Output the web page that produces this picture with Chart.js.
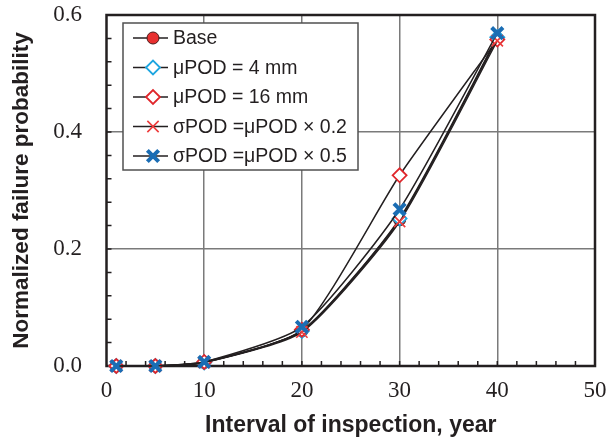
<!DOCTYPE html>
<html>
<head>
<meta charset="utf-8">
<script src="https://cdn.jsdelivr.net/npm/chart.js@4"></script>
<style>
  html, body { margin: 0; padding: 0; background: #fff; }
  #chart { display: block; }
</style>
</head>
<body>
<canvas id="chart" width="608" height="441"></canvas>
<script>
// inspection interval (years)
const intervals = [1, 5, 10, 20, 30, 40];

// normalized failure probability per case
const baseCase = [0, 0, 0.006, 0.06, 0.25, 0.56];
const muPod4 = [0, 0, 0.006, 0.06, 0.252, 0.562];
const muPod16 = [0, 0, 0.007, 0.062, 0.326, 0.558];
const sigma02 = [0, 0, 0.006, 0.058, 0.247, 0.556];
const sigma05 = [0, 0, 0.007, 0.067, 0.268, 0.569];

const labels = [
  "Base",
  "μPOD = 4 mm",
  "μPOD = 16 mm",
  "σPOD =μPOD × 0.2",
  "σPOD =μPOD × 0.5",
];

const xTicks = [0, 10, 20, 30, 40, 50];
const yTicks = [0, 0.2, 0.4, 0.6];

const ink = "#231f20";
const gridGray = "#7a7a7a";

const markers = [
  { pointStyle: "circle", radius: 6, fill: "#e8302f", stroke: "#4a1a1a", width: 1 },
  { pointStyle: "rectRot", radius: 7, fill: "#ffffff", stroke: "#1ea6e0", width: 1.8 },
  { pointStyle: "rectRot", radius: 7, fill: "#ffffff", stroke: "#e0262b", width: 1.8 },
  { pointStyle: "crossRot", radius: 8, fill: "#ee3c3c", stroke: "#ee3c3c", width: 1.6 },
  { pointStyle: "crossRot", radius: 8, fill: "#1a6db4", stroke: "#1a6db4", width: 4 },
];

const series = [baseCase, muPod4, muPod16, sigma02, sigma05];

const datasets = series.map((vals, i) => ({
  label: labels[i],
  data: intervals.map((x, j) => ({ x: x, y: vals[j] })),
  borderColor: ink,
  borderWidth: 1.5,
  tension: 0.2,
  fill: false,
  clip: false,
  order: series.length - i,
  pointStyle: markers[i].pointStyle,
  pointRadius: markers[i].radius,
  pointBackgroundColor: markers[i].fill,
  pointBorderColor: markers[i].stroke,
  pointBorderWidth: markers[i].width,
}));

// frame + inward minor ticks
const framePlugin = {
  id: "frame",
  beforeDatasetsDraw(chart) {
    const { ctx, chartArea: a, scales } = chart;
    ctx.save();
    ctx.strokeStyle = ink;
    ctx.lineWidth = 1.5;
    ctx.beginPath();
    for (let v = 2; v < 50; v += 2) {
      const px = scales.x.getPixelForValue(v);
      ctx.moveTo(px, a.bottom);
      ctx.lineTo(px, a.bottom - 5);
    }
    for (let k = 1; k < 15; k++) {
      const py = scales.y.getPixelForValue(k * 0.04);
      ctx.moveTo(a.left, py);
      ctx.lineTo(a.left + 5, py);
    }
    ctx.stroke();
    ctx.lineWidth = 2.5;
    ctx.strokeRect(a.left, a.top, a.right - a.left, a.bottom - a.top);
    ctx.restore();
  },
};

// boxed legend inside the plot
const legendPlugin = {
  id: "boxLegend",
  afterDraw(chart) {
    const { ctx } = chart;
    const left = 123, top = 23, right = 358, bottom = 170;
    ctx.save();
    ctx.fillStyle = "#ffffff";
    ctx.fillRect(left, top, right - left, bottom - top);
    ctx.strokeStyle = "#505050";
    ctx.lineWidth = 1.5;
    ctx.strokeRect(left, top, right - left, bottom - top);
    ctx.font = "19.5px 'Liberation Sans', Arial, sans-serif";
    ctx.textBaseline = "middle";
    labels.forEach((lab, i) => {
      const y = 38 + i * 29.5;
      ctx.strokeStyle = ink;
      ctx.lineWidth = 1.5;
      ctx.beginPath();
      ctx.moveTo(133, y);
      ctx.lineTo(168, y);
      ctx.stroke();
      const m = markers[i];
      ctx.fillStyle = m.fill;
      ctx.strokeStyle = m.stroke;
      ctx.lineWidth = m.width;
      Chart.helpers.drawPoint(ctx, {
        pointStyle: m.pointStyle,
        radius: m.radius,
        rotation: 0,
        borderWidth: m.width,
      }, 153, y);
      ctx.fillStyle = ink;
      ctx.fillText(lab, 173, y + 1);
    });
    ctx.restore();
  },
};

new Chart(document.getElementById("chart").getContext("2d"), {
  type: "line",
  data: { datasets: datasets },
  options: {
    responsive: false,
    animation: false,
    devicePixelRatio: 1,
    layout: { padding: { top: 15, right: 13, left: 0, bottom: 0 } },
    plugins: {
      legend: { display: false },
      tooltip: { enabled: false },
    },
    scales: {
      x: {
        type: "linear",
        min: 0,
        max: 50,
        afterBuildTicks: (axis) => {
          axis.ticks = xTicks.map((v) => ({ value: v }));
        },
        afterFit: (axis) => {
          axis.height = 75;
          axis.paddingLeft = 0;
          axis.paddingRight = 0;
        },
        ticks: {
          font: { family: "'Liberation Serif', 'Times New Roman', serif", size: 23 },
          color: ink,
          padding: 11,
          maxRotation: 0,
        },
        grid: {
          drawTicks: false,
          lineWidth: 1.5,
          color: (c) => (c.tick && (c.tick.value === 0 || c.tick.value === 50) ? "transparent" : gridGray),
        },
        border: { display: false },
        title: {
          display: true,
          text: "Interval of inspection, year",
          font: { family: "'Liberation Sans', Arial, sans-serif", size: 23, weight: "bold" },
          color: ink,
          padding: { top: 0, bottom: 2 },
        },
      },
      y: {
        min: 0,
        max: 0.6,
        afterBuildTicks: (axis) => {
          axis.ticks = yTicks.map((v) => ({ value: v }));
        },
        afterFit: (axis) => {
          axis.width = 106.5;
          axis.paddingTop = 0;
          axis.paddingBottom = 0;
        },
        ticks: {
          font: { family: "'Liberation Serif', 'Times New Roman', serif", size: 23 },
          color: ink,
          padding: 24.5,
          callback: (v) => Number(v).toFixed(1),
        },
        grid: {
          drawTicks: false,
          lineWidth: 1.5,
          color: (c) => (c.tick && (c.tick.value === 0 || Math.abs(c.tick.value - 0.6) < 1e-9) ? "transparent" : gridGray),
        },
        border: { display: false },
        title: {
          display: true,
          text: "Normalized failure probability",
          font: { family: "'Liberation Sans', Arial, sans-serif", size: 22.5, weight: "bold" },
          color: ink,
          padding: { top: 8, bottom: 0 },
        },
      },
    },
  },
  plugins: [framePlugin, legendPlugin],
});
</script>
</body>
</html>
